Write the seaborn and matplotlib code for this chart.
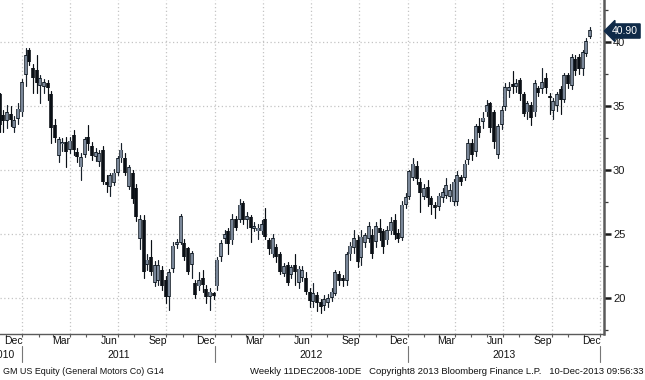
import numpy as np
import pandas as pd
import matplotlib
matplotlib.use("Agg")
import matplotlib.pyplot as plt
import matplotlib.dates as mdates
from matplotlib.transforms import blended_transform_factory
from matplotlib.lines import Line2D
import seaborn as sns

# ---------------- data (weekly OHLC, GM US Equity) ----------------
start_week = "2010-11-19"
opens = [35.9, 34.3, 33.8, 34.4, 33.3, 34.0, 34.5, 37.4, 39.4, 38.0,
         37.8, 36.6, 36.5, 36.8, 35.9, 33.5, 31.1, 32.0, 32.2, 31.6,
         32.7, 31.4, 30.2, 31.2, 32.6, 31.9, 31.0, 30.6, 31.6, 29.1,
         28.7, 29.0, 29.8, 30.9, 30.9, 28.7, 29.8, 28.6, 24.6, 26.1,
         22.6, 23.2, 21.2, 21.3, 22.2, 21.4, 20.1, 22.3, 24.15, 24.3,
         24.3, 23.9, 22.6, 21.2, 20.9, 21.6, 20.7, 20.1, 20.35, 20.9,
         23.2, 24.6, 25.2, 24.5, 26.2, 26.1, 27.4, 26.1, 26.3, 25.4,
         25.2, 25.2, 26.2, 24.5, 23.4, 24.0, 23.4, 21.9, 22.6, 21.8,
         22.6, 21.2, 21.6, 21.6, 20.5, 19.7, 20.2, 19.7, 19.4, 19.6,
         20.0, 20.3, 21.9, 21.6, 21.3, 23.4, 23.9, 24.5, 23.1, 24.3,
         24.6, 24.9, 24.4, 25.5, 25.2, 24.5, 25.2, 26.1, 25.1, 24.7,
         27.3, 27.9, 29.4, 30.3, 29.1, 27.9, 28.7, 27.8, 27.3, 27.1,
         27.8, 28.0, 27.9, 27.5, 27.5, 29.45, 29.4, 30.8, 32.1, 31.4,
         33.4, 33.75, 34.5, 35.2, 34.5, 31.2, 33.5, 34.9, 36.2, 36.7,
         36.5, 37.0, 35.9, 34.5, 35.1, 34.5, 36.4, 36.3, 37.2, 35.8,
         34.6, 35.0, 36.3, 35.5, 37.4, 36.6, 38.7, 38.8, 37.9, 39.1,
         40.4]
highs = [36.0, 34.7, 35.1, 35.0, 34.2, 35.2, 37.1, 39.5, 39.5, 38.3,
         39.0, 37.4, 37.1, 37.0, 36.2, 34.0, 32.6, 32.5, 32.6, 32.6,
         33.1, 31.7, 31.3, 32.6, 33.5, 32.2, 31.7, 31.6, 31.9, 29.6,
         29.8, 30.1, 31.1, 32.1, 31.3, 30.4, 30.0, 28.9, 26.5, 26.5,
         23.4, 24.5, 22.9, 23.0, 22.5, 21.7, 22.3, 24.4, 24.6, 26.6,
         24.6, 24.0, 23.7, 21.4, 22.0, 22.2, 21.0, 20.8, 20.5, 23.2,
         24.5, 25.3, 25.5, 26.6, 26.4, 27.7, 27.6, 26.7, 26.5, 25.9,
         25.8, 26.1, 27.0, 24.7, 25.0, 24.2, 23.6, 22.7, 22.8, 22.6,
         23.4, 22.5, 22.5, 22.0, 20.8, 21.2, 20.5, 19.9, 20.2, 20.3,
         20.8, 22.2, 22.1, 21.8, 23.6, 24.4, 25.3, 24.9, 25.3, 25.1,
         25.9, 25.4, 25.9, 26.2, 25.4, 25.6, 26.3, 26.6, 25.4, 27.6,
         28.2, 30.0, 30.9, 30.7, 29.4, 28.9, 29.2, 28.0, 27.5, 28.2,
         28.6, 29.4, 28.9, 29.3, 29.9, 29.6, 30.8, 32.4, 32.4, 33.6,
         34.1, 34.5, 35.5, 35.3, 34.7, 33.6, 35.0, 36.8, 36.9, 37.7,
         37.1, 37.2, 36.1, 35.4, 35.3, 37.0, 36.6, 38.0, 37.6, 36.0,
         35.6, 36.1, 36.6, 37.6, 37.6, 39.1, 39.0, 39.1, 39.4, 40.3,
         41.2]
lows = [33.0, 33.0, 33.3, 33.4, 33.0, 33.6, 34.2, 36.6, 38.2, 36.0,
        36.0, 35.2, 36.0, 35.5, 32.1, 32.2, 30.6, 31.5, 30.2, 31.3,
        31.2, 30.6, 29.2, 31.0, 31.6, 30.8, 30.7, 30.3, 28.9, 28.3,
        28.0, 28.8, 29.6, 30.6, 29.6, 28.5, 27.4, 26.0, 23.8, 21.6,
        22.2, 21.8, 20.9, 21.0, 20.6, 19.6, 19.1, 22.0, 23.9, 24.2,
        23.0, 21.9, 21.6, 20.0, 20.6, 20.5, 19.6, 19.1, 19.9, 20.6,
        22.9, 24.3, 23.4, 24.2, 25.3, 25.9, 25.8, 25.5, 24.4, 25.2,
        24.6, 25.0, 24.6, 23.4, 23.2, 22.8, 21.9, 21.7, 21.0, 21.6,
        21.0, 20.8, 21.3, 20.3, 19.3, 19.3, 19.0, 18.8, 19.1, 19.3,
        19.8, 20.2, 21.0, 20.9, 21.0, 23.0, 23.5, 22.4, 22.6, 24.0,
        24.4, 23.1, 24.0, 24.5, 23.5, 24.2, 25.0, 24.6, 24.4, 24.5,
        27.0, 27.7, 29.2, 28.9, 26.7, 27.7, 27.2, 26.6, 26.25, 26.9,
        27.5, 27.8, 27.6, 27.3, 27.3, 28.8, 29.2, 30.5, 30.8, 31.1,
        32.6, 33.3, 34.2, 33.0, 31.7, 30.9, 33.2, 34.7, 35.7, 36.0,
        36.1, 35.5, 34.2, 34.0, 33.5, 34.2, 35.8, 36.0, 36.0, 34.4,
        34.0, 34.6, 34.4, 35.3, 36.4, 36.3, 37.4, 37.5, 37.4, 38.9,
        40.3]
closes = [33.5, 33.8, 34.5, 33.9, 33.9, 34.8, 36.9, 39.0, 38.4, 37.2,
          36.8, 37.2, 36.9, 36.4, 33.3, 32.5, 32.4, 32.2, 31.4, 32.3,
          31.6, 31.0, 31.0, 32.4, 32.0, 31.1, 31.4, 31.3, 29.1, 28.8,
          29.6, 29.8, 30.9, 31.6, 29.8, 30.2, 27.7, 26.3, 26.2, 22.0,
          23.0, 22.0, 22.6, 22.6, 20.9, 20.1, 22.0, 24.1, 24.35, 26.4,
          23.2, 22.0, 23.5, 20.2, 21.4, 21.0, 20.1, 20.5, 20.2, 23.0,
          24.3, 25.0, 24.2, 26.2, 25.5, 27.3, 26.1, 26.4, 25.5, 25.6,
          25.5, 25.8, 24.8, 23.8, 24.7, 23.2, 22.0, 22.5, 21.2, 22.4,
          22.0, 22.3, 22.2, 20.5, 19.8, 20.4, 19.6, 19.3, 19.9, 20.0,
          20.5, 22.0, 21.3, 21.3, 23.4, 24.1, 24.7, 22.8, 24.8, 24.9,
          25.6, 23.4, 25.6, 25.1, 24.0, 25.3, 25.9, 24.9, 24.6, 27.3,
          27.9, 29.9, 30.5, 29.3, 28.2, 28.6, 27.8, 27.3, 27.0, 28.0,
          28.3, 28.8, 28.4, 29.1, 29.6, 29.1, 30.5, 32.1, 31.2, 33.4,
          32.9, 34.1, 35.1, 33.3, 32.2, 33.4, 34.7, 36.5, 36.5, 36.5,
          36.8, 35.9, 34.4, 35.2, 34.1, 36.8, 36.0, 36.9, 36.4, 35.6,
          35.4, 35.9, 35.5, 37.4, 36.7, 38.8, 37.7, 37.9, 39.2, 40.1,
          40.9]

month_labels = ["Dec", "Mar", "Jun", "Sep"]
year_labels = ["2010", "2011", "2012", "2013"]
y_ticks = [20, 25, 30, 35, 40]
last_price = "40.90"
footer_left = "GM US Equity (General Motors Co) G14"
footer_right = "Weekly 11DEC2008-10DE   Copyright8 2013 Bloomberg Finance L.P.   10-Dec-2013 09:56:33"

# ---------------- styling constants ----------------
W, H = 645, 380
PX_PER_DAY = 3.69 / 7.0
UP_FILL = "#8593a5"
EDGE = "#17212b"
DOWN = "#0a0f15"
GRID = "#c4c4c4"
AXIS = "#5a5a5a"
TXT = "#111111"

sns.set_theme(style="white")
plt.rcParams["font.family"] = ["Liberation Sans", "DejaVu Sans"]

fig = plt.figure(figsize=(W / 100, H / 100), dpi=100)
ax_bottom_px = 334
ax_right_px = 604
ax = fig.add_axes([0, 1 - ax_bottom_px / H, ax_right_px / W, ax_bottom_px / H])

dates = pd.date_range(start_week, periods=len(closes), freq="7D")
x = mdates.date2num(dates)
df = pd.DataFrame({"x": x, "o": opens, "h": highs, "l": lows, "c": closes})
df["dir"] = np.where(df["c"] >= df["o"], "up", "down")
df["id"] = np.arange(len(df))
lo_b = np.minimum(df["o"], df["c"])
hi_b = np.maximum(df["o"], df["c"])
mid = (lo_b + hi_b) / 2
span = np.maximum(hi_b - lo_b, 0.16)
df["b0"] = mid - span / 2
df["b1"] = mid + span / 2

wick = pd.concat([df.assign(y=df["l"]), df.assign(y=df["h"])], ignore_index=True)
body = pd.concat([df.assign(y=df["b0"]), df.assign(y=df["b1"])], ignore_index=True)
body_up = body[body["dir"] == "up"].copy()
inset = 0.07
body_up["y"] = np.where(body_up["y"] == body_up["b0"], body_up["y"] + inset, body_up["y"] - inset)

sns.lineplot(data=wick, x="x", y="y", units="id", estimator=None, hue="dir",
             palette={"up": EDGE, "down": DOWN}, linewidth=0.85, legend=False,
             ax=ax, sort=False, zorder=3)
sns.lineplot(data=body, x="x", y="y", units="id", estimator=None, hue="dir",
             palette={"up": EDGE, "down": DOWN}, linewidth=2.6, legend=False,
             ax=ax, sort=False, solid_capstyle="butt", zorder=4)
sns.lineplot(data=body_up, x="x", y="y", units="id", estimator=None,
             color=UP_FILL, linewidth=1.3, legend=False, ax=ax, sort=False,
             solid_capstyle="butt", zorder=5)

# ---------------- axes limits ----------------
x_left = mdates.date2num(pd.Timestamp(start_week)) + 0.3 / PX_PER_DAY
x_right = x_left + ax_right_px / PX_PER_DAY
ax.set_xlim(x_left, x_right)
ax.set_ylim(40 - (ax_bottom_px - 42) / 12.8, 40 + 42 / 12.8)
ax.set_xlabel("")
ax.set_ylabel("")

# gridlines
for yv in y_ticks:
    ax.axhline(yv, color=GRID, linestyle=(0, (1, 2)), linewidth=0.9, zorder=1)
quarters = pd.date_range("2011-01-01", "2014-01-01", freq="QS")
for q in quarters:
    ax.axvline(mdates.date2num(q), color=GRID, linestyle=(0, (1, 2)), linewidth=0.9, zorder=1)

# spines
for s in ["left", "top"]:
    ax.spines[s].set_visible(False)
ax.spines["right"].set_color(AXIS)
ax.spines["right"].set_linewidth(1.8)
ax.spines["bottom"].set_color(AXIS)
ax.spines["bottom"].set_linewidth(1.0)

# y axis on the right
ax.yaxis.tick_right()
ax.set_yticks(y_ticks)
ax.set_yticklabels([str(v) for v in y_ticks])
ax.set_yticks([v + 2.5 for v in y_ticks[:-1]] + [17.5, 42.5], minor=True)
ax.tick_params(axis="y", which="major", direction="out", length=5, width=1.8,
               colors="#1a1a1a", labelsize=8, pad=1.5, right=True, left=False)
ax.tick_params(axis="y", which="minor", direction="out", length=3, width=0.9,
               colors="#3a3a3a", right=True, left=False)

# x axis month ticks
months = pd.date_range("2010-12-01", "2014-01-01", freq="MS")
ax.set_xticks(mdates.date2num(months))
ax.set_xticklabels([])
ax.tick_params(axis="x", which="major", direction="out", length=2.5, width=0.8,
               colors=AXIS, bottom=True)

trans = blended_transform_factory(ax.transData, fig.transFigure)
for d in pd.date_range("2010-12-01", "2013-12-01", freq="3MS"):
    lab = month_labels[[12, 3, 6, 9].index(d.month)]
    xc = mdates.date2num(d + pd.Timedelta(days=14))
    ax.text(xc, 1 - 341 / H, lab, transform=trans, ha="center", va="center",
            fontsize=7.5, color=TXT, clip_on=False)

year_pos = [x_left + 3 / PX_PER_DAY] + [mdates.date2num(pd.Timestamp(f"{y}-07-02")) for y in (2011, 2012, 2013)]
for xp, lab in zip(year_pos, year_labels):
    ax.text(xp, 1 - 355 / H, lab, transform=trans, ha="center", va="center",
            fontsize=7.5, color=TXT, clip_on=False)
for yr in (2011, 2012, 2013, 2014):
    xb = mdates.date2num(pd.Timestamp(f"{yr}-01-01"))
    fig.add_artist(Line2D([xb, xb], [1 - 346 / H, 1 - 362 / H], transform=trans,
                          color="#777777", linewidth=0.8))

# last price tag
fig.text(612 / W, 1 - 31 / H, last_price, ha="left", va="center", fontsize=7.5,
         color="white",
         bbox=dict(boxstyle="larrow,pad=0.2", fc="#0f2a48", ec="#0f2a48"))

# footer
fig.text(3 / W, 1 - 371 / H, footer_left, ha="left", va="center",
         fontsize=6.4, color=TXT)
fig.text(644 / W, 1 - 371 / H, footer_right, ha="right", va="center",
         fontsize=6.8, color=TXT)

fig.savefig("out.png", dpi=100, facecolor="white")
